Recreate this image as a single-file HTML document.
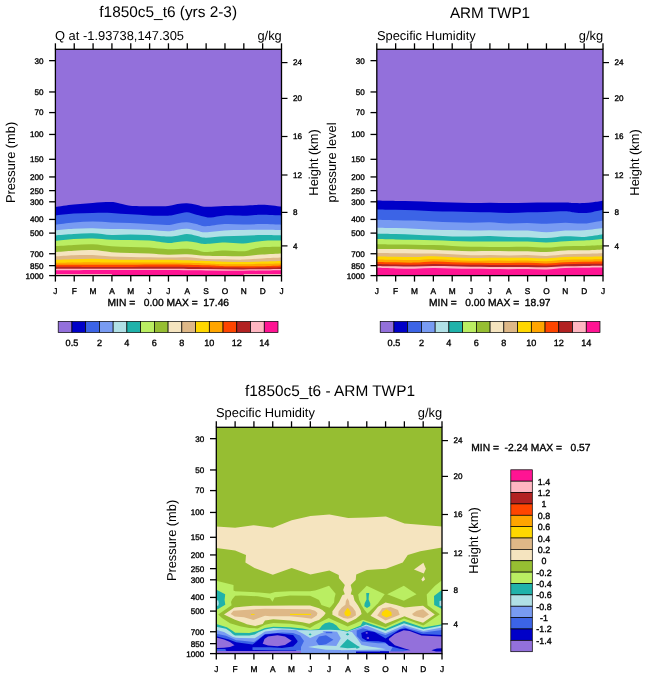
<!DOCTYPE html>
<html><head><meta charset="utf-8"><style>
html,body{margin:0;padding:0;background:#fff;overflow:hidden;}
svg{display:block;}
text{font-family:"Liberation Sans", sans-serif;fill:#000;text-rendering:geometricPrecision;}
.ov{position:absolute;left:0;top:0;will-change:transform;}
.sm{stroke:#000;stroke-width:0.35px;}
.tk{stroke:#000;stroke-width:1.3;}
.tk2{stroke:#000;stroke-width:1.2;}
</style></head><body>
<svg width="648" height="678" viewBox="0 0 648 678">
<rect width="648" height="678" fill="#fff"/>
<rect x="55.4" y="49.3" width="226.10" height="226.30" fill="#9370DB"/>
<path d="M55.40,207.00 C58.47,206.58 67.58,205.18 73.80,204.50 C80.02,203.82 86.42,203.32 92.70,202.90 C98.98,202.48 106.78,201.86 111.50,202.00 C116.22,202.14 117.87,203.12 121.00,203.75 C124.13,204.38 125.60,205.33 130.30,205.75 C135.00,206.17 142.92,206.21 149.20,206.25 C155.48,206.29 163.28,206.36 168.00,206.00 C172.72,205.64 174.35,204.56 177.50,204.10 C180.65,203.64 183.77,203.14 186.90,203.25 C190.03,203.36 193.17,204.16 196.30,204.75 C199.43,205.34 201.00,206.59 205.70,206.80 C210.40,207.01 218.22,206.18 224.50,206.00 C230.78,205.82 238.32,205.92 243.40,205.75 C248.48,205.58 251.87,205.17 255.00,205.00 C258.13,204.83 259.28,204.68 262.20,204.75 C265.12,204.82 269.28,205.09 272.50,205.40 C275.72,205.71 280.00,206.40 281.50,206.60 L281.50,275.60 L55.40,275.60 Z" fill="#0000C8"/>
<path d="M55.40,215.40 C58.47,215.08 67.58,213.92 73.80,213.50 C80.02,213.08 86.42,213.00 92.70,212.90 C98.98,212.80 105.23,212.67 111.50,212.90 C117.77,213.13 124.02,213.88 130.30,214.30 C136.58,214.72 142.92,215.16 149.20,215.40 C155.48,215.64 163.28,215.97 168.00,215.75 C172.72,215.53 174.35,214.68 177.50,214.10 C180.65,213.52 183.77,212.14 186.90,212.25 C190.03,212.36 193.17,213.96 196.30,214.75 C199.43,215.54 203.25,216.54 205.70,217.00 C208.15,217.46 207.87,217.77 211.00,217.50 C214.13,217.23 219.10,215.69 224.50,215.40 C229.90,215.11 238.32,215.82 243.40,215.75 C248.48,215.68 251.87,215.17 255.00,215.00 C258.13,214.83 257.78,214.68 262.20,214.75 C266.62,214.82 278.28,215.29 281.50,215.40 L281.50,275.60 L55.40,275.60 Z" fill="#3C64E6"/>
<path d="M55.40,224.75 C58.47,224.38 67.58,223.03 73.80,222.50 C80.02,221.97 86.42,221.60 92.70,221.60 C98.98,221.60 105.23,222.25 111.50,222.50 C117.77,222.75 124.02,222.83 130.30,223.10 C136.58,223.37 142.92,223.78 149.20,224.10 C155.48,224.42 163.28,225.14 168.00,225.00 C172.72,224.86 174.35,223.71 177.50,223.25 C180.65,222.79 183.77,222.11 186.90,222.25 C190.03,222.39 193.17,223.42 196.30,224.10 C199.43,224.78 201.00,226.30 205.70,226.30 C210.40,226.30 218.22,224.40 224.50,224.10 C230.78,223.80 237.12,224.50 243.40,224.50 C249.68,224.50 255.85,224.06 262.20,224.10 C268.55,224.14 278.28,224.64 281.50,224.75 L281.50,275.60 L55.40,275.60 Z" fill="#789BF2"/>
<path d="M55.40,230.40 C58.47,230.12 67.58,229.11 73.80,228.75 C80.02,228.39 86.42,228.19 92.70,228.25 C98.98,228.31 105.23,228.92 111.50,229.10 C117.77,229.28 124.02,229.15 130.30,229.30 C136.58,229.45 142.92,229.68 149.20,230.00 C155.48,230.32 163.28,231.29 168.00,231.25 C172.72,231.21 174.35,230.17 177.50,229.75 C180.65,229.33 183.77,228.64 186.90,228.75 C190.03,228.86 193.17,229.82 196.30,230.40 C199.43,230.98 201.00,232.25 205.70,232.25 C210.40,232.25 218.22,230.78 224.50,230.40 C230.78,230.03 237.12,230.11 243.40,230.00 C249.68,229.89 255.85,229.75 262.20,229.75 C268.55,229.75 278.28,229.96 281.50,230.00 L281.50,275.60 L55.40,275.60 Z" fill="#B0E0E6"/>
<path d="M55.40,235.40 C58.47,235.18 67.58,234.46 73.80,234.10 C80.02,233.74 86.42,233.10 92.70,233.25 C98.98,233.40 105.23,234.81 111.50,235.00 C117.77,235.19 124.02,234.40 130.30,234.40 C136.58,234.40 142.92,234.63 149.20,235.00 C155.48,235.37 163.28,236.47 168.00,236.60 C172.72,236.72 174.35,236.17 177.50,235.75 C180.65,235.33 183.77,234.10 186.90,234.10 C190.03,234.10 193.17,235.15 196.30,235.75 C199.43,236.35 201.00,237.62 205.70,237.70 C210.40,237.78 218.22,236.57 224.50,236.25 C230.78,235.93 237.12,235.96 243.40,235.75 C249.68,235.54 255.85,235.06 262.20,235.00 C268.55,234.94 278.28,235.33 281.50,235.40 L281.50,275.60 L55.40,275.60 Z" fill="#20B2AA"/>
<path d="M55.40,240.80 C58.47,240.50 67.58,239.38 73.80,239.00 C80.02,238.62 86.42,238.38 92.70,238.50 C98.98,238.62 105.23,239.43 111.50,239.70 C117.77,239.97 124.02,239.95 130.30,240.10 C136.58,240.25 142.92,240.12 149.20,240.60 C155.48,241.08 163.28,242.77 168.00,243.00 C172.72,243.23 174.35,242.28 177.50,242.00 C180.65,241.72 183.77,241.22 186.90,241.30 C190.03,241.38 193.17,242.05 196.30,242.50 C199.43,242.95 201.00,243.98 205.70,244.00 C210.40,244.02 218.22,242.68 224.50,242.60 C230.78,242.52 237.12,243.78 243.40,243.50 C249.68,243.22 255.85,241.38 262.20,240.90 C268.55,240.42 278.28,240.65 281.50,240.60 L281.50,275.60 L55.40,275.60 Z" fill="#BAEE62"/>
<path d="M55.40,246.30 C58.47,246.10 67.58,245.44 73.80,245.10 C80.02,244.76 86.42,244.05 92.70,244.25 C98.98,244.45 105.23,245.84 111.50,246.30 C117.77,246.76 124.02,246.78 130.30,247.00 C136.58,247.22 142.92,247.22 149.20,247.60 C155.48,247.97 161.72,249.05 168.00,249.25 C174.28,249.45 182.18,248.66 186.90,248.80 C191.62,248.94 193.17,249.55 196.30,250.10 C199.43,250.65 201.00,252.03 205.70,252.10 C210.40,252.17 218.22,250.63 224.50,250.50 C230.78,250.37 238.82,251.51 243.40,251.30 C247.98,251.09 248.87,249.93 252.00,249.25 C255.13,248.57 257.28,247.62 262.20,247.20 C267.12,246.78 278.28,246.82 281.50,246.75 L281.50,275.60 L55.40,275.60 Z" fill="#96BE32"/>
<path d="M55.40,252.00 C58.47,251.78 67.58,251.02 73.80,250.70 C80.02,250.38 86.42,249.85 92.70,250.10 C98.98,250.35 105.23,251.72 111.50,252.20 C117.77,252.68 124.02,252.80 130.30,253.00 C136.58,253.20 142.92,253.12 149.20,253.40 C155.48,253.68 161.72,254.56 168.00,254.70 C174.28,254.84 180.62,254.07 186.90,254.25 C193.18,254.43 199.43,255.53 205.70,255.80 C211.97,256.07 218.22,255.83 224.50,255.90 C230.78,255.97 237.12,256.43 243.40,256.20 C249.68,255.97 255.85,254.97 262.20,254.50 C268.55,254.03 278.28,253.58 281.50,253.40 L281.50,275.60 L55.40,275.60 Z" fill="#F5E4BF"/>
<path d="M55.40,256.50 C58.47,256.30 67.58,255.53 73.80,255.30 C80.02,255.07 86.42,254.90 92.70,255.10 C98.98,255.30 105.23,256.18 111.50,256.50 C117.77,256.82 124.02,256.87 130.30,257.00 C136.58,257.13 142.92,257.20 149.20,257.30 C155.48,257.40 161.72,257.60 168.00,257.60 C174.28,257.60 180.62,257.08 186.90,257.30 C193.18,257.52 199.43,258.57 205.70,258.90 C211.97,259.22 218.22,259.13 224.50,259.25 C230.78,259.37 237.12,259.74 243.40,259.60 C249.68,259.46 255.85,258.73 262.20,258.40 C268.55,258.07 278.28,257.73 281.50,257.60 L281.50,275.60 L55.40,275.60 Z" fill="#DEB887"/>
<path d="M55.40,259.80 C58.47,259.71 67.58,259.42 73.80,259.25 C80.02,259.08 86.42,258.76 92.70,258.80 C98.98,258.84 105.23,259.33 111.50,259.50 C117.77,259.67 120.88,259.75 130.30,259.80 C139.72,259.85 155.43,259.60 168.00,259.80 C180.57,260.00 196.28,260.68 205.70,261.00 C215.12,261.32 218.22,261.58 224.50,261.75 C230.78,261.92 237.12,262.04 243.40,262.00 C249.68,261.96 255.85,261.68 262.20,261.50 C268.55,261.32 278.28,261.00 281.50,260.90 L281.50,275.60 L55.40,275.60 Z" fill="#FFD700"/>
<path d="M55.40,262.80 C61.62,262.70 83.35,262.23 92.70,262.20 C102.05,262.17 98.95,262.53 111.50,262.60 C124.05,262.67 152.30,262.47 168.00,262.60 C183.70,262.73 196.28,263.12 205.70,263.40 C215.12,263.67 218.22,264.12 224.50,264.25 C230.78,264.38 237.12,264.27 243.40,264.20 C249.68,264.12 255.85,263.93 262.20,263.80 C268.55,263.67 278.28,263.47 281.50,263.40 L281.50,275.60 L55.40,275.60 Z" fill="#FFA500"/>
<path d="M55.40,264.80 C64.75,264.80 92.73,264.85 111.50,264.80 C130.27,264.75 152.30,264.42 168.00,264.50 C183.70,264.58 196.28,265.02 205.70,265.30 C215.12,265.58 218.22,266.03 224.50,266.20 C230.78,266.37 237.12,266.30 243.40,266.30 C249.68,266.30 255.85,266.33 262.20,266.20 C268.55,266.07 278.28,265.62 281.50,265.50 L281.50,275.60 L55.40,275.60 Z" fill="#FF4500"/>
<path d="M55.40,266.80 C64.75,266.83 92.73,267.01 111.50,267.00 C130.27,266.99 152.30,266.72 168.00,266.75 C183.70,266.78 196.28,267.06 205.70,267.20 C215.12,267.34 215.08,267.53 224.50,267.60 C233.92,267.67 252.70,267.67 262.20,267.60 C271.70,267.53 278.28,267.27 281.50,267.20 L281.50,275.60 L55.40,275.60 Z" fill="#B22222"/>
<path d="M55.40,268.90 C64.75,268.88 92.73,268.83 111.50,268.80 C130.27,268.77 152.30,268.65 168.00,268.70 C183.70,268.75 193.13,268.98 205.70,269.10 C218.27,269.22 230.77,269.42 243.40,269.40 C256.03,269.38 275.15,269.07 281.50,269.00 L281.50,275.60 L55.40,275.60 Z" fill="#FFB6C1"/>
<path d="M55.40,270.20 C64.75,270.15 92.73,269.92 111.50,269.90 C130.27,269.88 152.30,270.00 168.00,270.10 C183.70,270.20 193.13,270.40 205.70,270.50 C218.27,270.60 230.77,270.73 243.40,270.70 C256.03,270.67 275.15,270.37 281.50,270.30 L281.50,275.60 L55.40,275.60 Z" fill="#FF1493"/>
<rect x="55.4" y="274.0" width="56.50" height="1.3" fill="#FFB6C1"/>
<rect x="243.8" y="274.0" width="37.70" height="1.3" fill="#FFB6C1"/>
<rect x="376.8" y="49.3" width="226.20" height="226.30" fill="#9370DB"/>
<path d="M376.80,200.60 C379.95,200.67 389.42,200.89 395.70,201.00 C401.98,201.11 408.22,201.10 414.50,201.25 C420.78,201.40 427.12,201.69 433.40,201.90 C439.68,202.11 445.93,202.30 452.20,202.50 C458.47,202.70 464.72,203.06 471.00,203.10 C477.28,203.14 483.62,202.75 489.90,202.75 C496.18,202.75 502.42,203.10 508.70,203.10 C514.98,203.10 521.30,202.85 527.60,202.75 C533.90,202.65 540.22,202.54 546.50,202.50 C552.78,202.46 560.63,202.40 565.30,202.50 C569.97,202.60 571.35,203.00 574.50,203.10 C577.65,203.20 581.12,203.24 584.20,203.10 C587.28,202.96 589.87,202.63 593.00,202.25 C596.13,201.87 601.33,201.04 603.00,200.80 L603.00,275.60 L376.80,275.60 Z" fill="#0000C8"/>
<path d="M376.80,209.40 C379.95,209.46 389.42,209.61 395.70,209.75 C401.98,209.89 408.22,210.00 414.50,210.25 C420.78,210.50 427.12,211.04 433.40,211.25 C439.68,211.46 445.93,211.39 452.20,211.50 C458.47,211.61 464.72,211.78 471.00,211.90 C477.28,212.03 483.62,212.05 489.90,212.25 C496.18,212.45 502.42,213.10 508.70,213.10 C514.98,213.10 521.30,212.45 527.60,212.25 C533.90,212.05 540.22,212.07 546.50,211.90 C552.78,211.73 560.63,211.15 565.30,211.25 C569.97,211.35 571.35,212.19 574.50,212.50 C577.65,212.81 581.12,213.20 584.20,213.10 C587.28,213.00 589.87,212.45 593.00,211.90 C596.13,211.35 601.33,210.15 603.00,209.80 L603.00,275.60 L376.80,275.60 Z" fill="#3C64E6"/>
<path d="M376.80,219.75 C379.95,219.83 389.42,220.11 395.70,220.25 C401.98,220.39 408.22,220.39 414.50,220.60 C420.78,220.81 427.12,221.22 433.40,221.50 C439.68,221.78 445.93,222.04 452.20,222.25 C458.47,222.46 464.72,222.75 471.00,222.75 C477.28,222.75 483.62,222.12 489.90,222.25 C496.18,222.38 502.42,223.39 508.70,223.50 C514.98,223.61 521.30,222.86 527.60,222.90 C533.90,222.94 540.22,223.78 546.50,223.75 C552.78,223.72 559.02,222.79 565.30,222.75 C571.58,222.71 577.92,223.89 584.20,223.50 C590.48,223.11 599.87,220.92 603.00,220.40 L603.00,275.60 L376.80,275.60 Z" fill="#789BF2"/>
<path d="M376.80,227.75 C379.95,227.81 389.42,227.93 395.70,228.10 C401.98,228.27 408.22,228.47 414.50,228.75 C420.78,229.03 427.12,229.53 433.40,229.75 C439.68,229.97 445.93,229.96 452.20,230.10 C458.47,230.24 464.72,230.57 471.00,230.60 C477.28,230.62 483.62,230.25 489.90,230.25 C496.18,230.25 502.42,230.54 508.70,230.60 C514.98,230.66 521.30,230.32 527.60,230.60 C533.90,230.88 540.22,232.25 546.50,232.25 C552.78,232.25 559.02,230.93 565.30,230.60 C571.58,230.27 577.92,230.68 584.20,230.25 C590.48,229.82 599.87,228.38 603.00,228.00 L603.00,275.60 L376.80,275.60 Z" fill="#B0E0E6"/>
<path d="M376.80,233.75 C379.95,233.79 389.42,233.83 395.70,234.00 C401.98,234.17 408.22,234.48 414.50,234.75 C420.78,235.02 427.12,235.32 433.40,235.60 C439.68,235.88 445.93,236.25 452.20,236.40 C458.47,236.55 464.72,236.57 471.00,236.50 C477.28,236.43 483.62,235.93 489.90,236.00 C496.18,236.07 502.42,236.69 508.70,236.90 C514.98,237.11 521.30,237.05 527.60,237.25 C533.90,237.45 540.22,238.27 546.50,238.10 C552.78,237.93 559.02,236.45 565.30,236.25 C571.58,236.05 577.92,237.22 584.20,236.90 C590.48,236.58 599.87,234.73 603.00,234.30 L603.00,275.60 L376.80,275.60 Z" fill="#20B2AA"/>
<path d="M376.80,239.00 C379.95,239.07 389.42,239.28 395.70,239.40 C401.98,239.53 408.22,239.62 414.50,239.75 C420.78,239.88 427.12,240.01 433.40,240.20 C439.68,240.39 445.93,240.68 452.20,240.90 C458.47,241.12 464.72,241.40 471.00,241.50 C477.28,241.60 483.62,241.48 489.90,241.50 C496.18,241.52 502.42,241.60 508.70,241.60 C514.98,241.60 521.30,241.37 527.60,241.50 C533.90,241.63 540.22,242.45 546.50,242.40 C552.78,242.35 559.02,241.52 565.30,241.20 C571.58,240.88 577.92,240.87 584.20,240.50 C590.48,240.13 599.87,239.25 603.00,239.00 L603.00,275.60 L376.80,275.60 Z" fill="#BAEE62"/>
<path d="M376.80,244.25 C379.95,244.29 389.42,244.43 395.70,244.50 C401.98,244.57 408.22,244.60 414.50,244.70 C420.78,244.80 427.12,244.90 433.40,245.10 C439.68,245.30 445.93,245.62 452.20,245.90 C458.47,246.18 464.72,246.58 471.00,246.75 C477.28,246.92 483.62,246.86 489.90,246.90 C496.18,246.94 502.42,247.03 508.70,247.00 C514.98,246.97 521.30,246.65 527.60,246.75 C533.90,246.85 540.22,247.69 546.50,247.60 C552.78,247.51 559.02,246.48 565.30,246.20 C571.58,245.92 577.92,246.10 584.20,245.90 C590.48,245.70 599.87,245.15 603.00,245.00 L603.00,275.60 L376.80,275.60 Z" fill="#96BE32"/>
<path d="M376.80,249.00 C379.95,249.00 389.42,248.96 395.70,249.00 C401.98,249.04 408.22,249.13 414.50,249.25 C420.78,249.37 427.12,249.49 433.40,249.70 C439.68,249.91 445.93,250.25 452.20,250.50 C458.47,250.75 464.72,251.10 471.00,251.20 C477.28,251.30 483.62,251.08 489.90,251.10 C496.18,251.12 502.42,251.28 508.70,251.30 C514.98,251.32 521.30,251.08 527.60,251.20 C533.90,251.32 540.22,252.13 546.50,252.00 C552.78,251.87 559.02,250.68 565.30,250.40 C571.58,250.12 577.92,250.45 584.20,250.30 C590.48,250.15 599.87,249.63 603.00,249.50 L603.00,275.60 L376.80,275.60 Z" fill="#F5E4BF"/>
<path d="M376.80,253.00 C379.95,253.03 389.42,253.13 395.70,253.20 C401.98,253.27 408.22,253.35 414.50,253.40 C420.78,253.45 427.12,253.36 433.40,253.50 C439.68,253.64 445.93,253.95 452.20,254.25 C458.47,254.55 464.72,255.18 471.00,255.30 C477.28,255.43 483.62,254.97 489.90,255.00 C496.18,255.03 502.42,255.48 508.70,255.50 C514.98,255.52 521.30,255.03 527.60,255.10 C533.90,255.17 540.22,256.03 546.50,255.90 C552.78,255.77 559.02,254.65 565.30,254.30 C571.58,253.95 577.92,253.98 584.20,253.80 C590.48,253.62 599.87,253.30 603.00,253.20 L603.00,275.60 L376.80,275.60 Z" fill="#DEB887"/>
<path d="M376.80,256.50 C379.95,256.54 389.42,256.67 395.70,256.75 C401.98,256.83 408.22,257.09 414.50,257.00 C420.78,256.91 427.12,256.15 433.40,256.20 C439.68,256.25 445.93,257.00 452.20,257.30 C458.47,257.60 464.72,257.93 471.00,258.00 C477.28,258.07 483.62,257.73 489.90,257.70 C496.18,257.67 502.42,257.80 508.70,257.80 C514.98,257.80 521.30,257.60 527.60,257.70 C533.90,257.80 540.22,258.50 546.50,258.40 C552.78,258.30 559.02,257.38 565.30,257.10 C571.58,256.83 577.92,256.85 584.20,256.75 C590.48,256.65 599.87,256.54 603.00,256.50 L603.00,275.60 L376.80,275.60 Z" fill="#FFD700"/>
<path d="M376.80,259.50 C379.95,259.55 389.42,259.70 395.70,259.80 C401.98,259.90 408.22,260.18 414.50,260.10 C420.78,260.02 427.12,259.30 433.40,259.30 C439.68,259.30 445.93,259.85 452.20,260.10 C458.47,260.35 464.72,260.73 471.00,260.80 C477.28,260.87 483.62,260.52 489.90,260.50 C496.18,260.48 502.42,260.68 508.70,260.70 C514.98,260.72 521.30,260.50 527.60,260.60 C533.90,260.70 540.22,261.43 546.50,261.30 C552.78,261.17 559.02,260.10 565.30,259.80 C571.58,259.50 577.92,259.59 584.20,259.50 C590.48,259.41 599.87,259.29 603.00,259.25 L603.00,275.60 L376.80,275.60 Z" fill="#FFA500"/>
<path d="M376.80,262.00 C379.95,262.05 389.42,262.20 395.70,262.30 C401.98,262.40 408.22,262.73 414.50,262.60 C420.78,262.47 427.12,261.57 433.40,261.50 C439.68,261.43 445.93,261.98 452.20,262.20 C458.47,262.42 464.72,262.68 471.00,262.80 C477.28,262.92 483.62,262.87 489.90,262.90 C496.18,262.93 502.42,263.02 508.70,263.00 C514.98,262.98 521.30,262.73 527.60,262.80 C533.90,262.87 540.22,263.50 546.50,263.40 C552.78,263.30 559.02,262.47 565.30,262.20 C571.58,261.93 577.92,261.87 584.20,261.75 C590.48,261.63 599.87,261.54 603.00,261.50 L603.00,275.60 L376.80,275.60 Z" fill="#FF4500"/>
<path d="M376.80,264.00 C379.95,264.08 389.42,264.37 395.70,264.50 C401.98,264.63 408.22,264.88 414.50,264.80 C420.78,264.72 427.12,264.05 433.40,264.00 C439.68,263.95 445.93,264.37 452.20,264.50 C458.47,264.63 464.72,264.72 471.00,264.80 C477.28,264.88 483.62,264.95 489.90,265.00 C496.18,265.05 502.42,265.08 508.70,265.10 C514.98,265.12 521.30,265.03 527.60,265.10 C533.90,265.17 540.22,265.64 546.50,265.50 C552.78,265.36 559.02,264.53 565.30,264.25 C571.58,263.97 577.92,263.89 584.20,263.80 C590.48,263.71 599.87,263.72 603.00,263.70 L603.00,275.60 L376.80,275.60 Z" fill="#B22222"/>
<path d="M376.80,265.90 C379.95,265.97 389.42,266.20 395.70,266.30 C401.98,266.40 408.22,266.55 414.50,266.50 C420.78,266.45 427.12,266.05 433.40,266.00 C439.68,265.95 445.93,266.07 452.20,266.20 C458.47,266.32 464.72,266.63 471.00,266.75 C477.28,266.87 483.62,266.84 489.90,266.90 C496.18,266.96 502.42,267.10 508.70,267.10 C514.98,267.10 521.30,266.87 527.60,266.90 C533.90,266.93 540.22,267.40 546.50,267.30 C552.78,267.20 559.02,266.53 565.30,266.30 C571.58,266.07 577.92,266.00 584.20,265.90 C590.48,265.80 599.87,265.73 603.00,265.70 L603.00,275.60 L376.80,275.60 Z" fill="#FFB6C1"/>
<path d="M376.80,267.80 C379.95,267.90 389.42,268.25 395.70,268.40 C401.98,268.55 408.22,268.77 414.50,268.70 C420.78,268.63 427.12,268.05 433.40,268.00 C439.68,267.95 445.93,268.27 452.20,268.40 C458.47,268.53 464.72,268.70 471.00,268.80 C477.28,268.90 483.62,268.93 489.90,269.00 C496.18,269.07 502.42,269.20 508.70,269.20 C514.98,269.20 521.30,268.95 527.60,269.00 C533.90,269.05 540.22,269.65 546.50,269.50 C552.78,269.35 559.02,268.38 565.30,268.10 C571.58,267.82 577.92,267.88 584.20,267.80 C590.48,267.72 599.87,267.63 603.00,267.60 L603.00,275.60 L376.80,275.60 Z" fill="#FF1493"/>
<rect x="216.3" y="427.3" width="225.70" height="226.30" fill="#96BE32"/>
<path d="M216.30,526.50 L235.10,527.75 L253.50,525.25 L272.80,527.75 L291.70,520.30 L310.50,516.00 L329.40,514.40 L348.20,518.10 L367.10,517.50 L385.90,516.50 L404.50,523.50 L442.00,526.50 L442.00,547.50 L420.25,551.25 L407.75,555.00 L402.75,562.50 L385.90,568.75 L366.90,570.00 L356.25,574.40 L355.70,580.00 L350.70,585.00 L351.90,590.00 L350.70,594.20 L353.20,595.30 L354.50,600.40 L357.90,605.20 L360.60,610.00 L361.60,614.00 L355.90,618.80 L347.70,622.80 L339.60,618.40 L332.40,614.70 L332.40,611.30 L334.80,607.90 L339.20,601.80 L342.30,595.20 L344.80,594.20 L343.20,590.00 L344.80,585.00 L339.00,578.30 L338.75,575.00 L329.40,570.60 L310.50,574.40 L291.70,568.10 L272.80,574.75 L254.50,568.10 L245.40,562.50 L246.00,555.00 L235.10,550.60 L216.30,548.10 Z" fill="#F5E4BF"/>
<path d="M216.30,581.00 L217.25,581.00 L233.50,585.00 L233.50,590.40 L235.20,591.25 L259.30,592.50 L270.00,593.50 L275.00,592.10 L290.00,591.25 L310.00,591.25 L315.00,590.40 L319.00,589.20 L329.00,585.80 L335.60,593.70 L334.50,598.00 L334.10,602.60 L331.00,606.50 L329.50,607.80 L321.50,605.00 L319.00,600.00 L315.00,597.90 L310.00,595.80 L290.00,595.40 L274.60,597.50 L272.50,601.70 L270.00,598.30 L265.00,597.50 L257.70,596.25 L241.00,595.40 L235.20,595.80 L232.25,599.20 L231.00,602.00 L231.60,605.30 L218.20,614.50 L222.00,618.00 L230.00,623.20 L240.00,626.30 L249.30,627.90 L257.70,628.40 L265.00,624.70 L273.30,623.00 L290.00,623.80 L302.50,625.50 L310.00,628.00 L315.00,624.70 L319.00,622.80 L328.70,618.00 L334.00,620.60 L347.70,626.50 L355.00,623.50 L363.00,619.70 L385.50,627.20 L404.00,618.60 L423.30,625.50 L439.80,614.30 L427.50,605.30 L426.70,594.60 L435.00,585.80 L441.70,580.60 L442.00,580.60 L442.00,653.60 L216.30,653.60 Z" fill="#BAEE62"/>
<path d="M358.20,594.40 L366.75,585.80 L384.70,594.20 L378.00,603.30 L367.50,613.50 L364.50,610.00 L361.60,605.60 L359.00,599.60 Z" fill="#BAEE62"/>
<path d="M387.20,594.20 L403.80,585.80 L416.50,594.20 L403.80,600.80 Z" fill="#BAEE62"/>
<path d="M216.30,590.00 L217.00,590.00 L225.20,594.20 L224.60,600.00 L225.30,604.80 L217.70,609.20 L216.30,609.40 Z" fill="#20B2AA"/>
<path d="M216.30,600.20 L218.30,600.60 L218.80,603.50 L218.30,605.70 L216.30,605.70 Z" fill="#B0E0E6"/>
<path d="M366.20,593.00 L369.30,593.00 L368.80,596.00 L368.60,599.50 L370.30,603.50 L370.20,606.00 L367.00,607.90 L364.30,606.20 L364.60,603.50 L366.50,599.50 L366.40,596.00 Z" fill="#20B2AA"/>
<path d="M434.00,596.00 L440.80,590.80 L442.00,590.50 L442.00,609.00 L441.10,608.50 L434.20,605.00 Z" fill="#20B2AA"/>
<path d="M439.50,601.00 L442.00,600.50 L442.00,606.00 L439.50,605.80 Z" fill="#B0E0E6"/>
<path d="M224.00,614.50 L234.40,607.60 L244.00,606.40 L253.50,605.70 L265.00,605.80 L290.00,605.40 L310.00,605.40 L315.00,607.00 L319.00,608.30 L322.30,610.00 L325.70,613.00 L324.00,615.50 L319.00,620.00 L315.00,621.30 L309.20,623.80 L302.50,622.20 L290.00,620.50 L273.30,619.25 L265.00,620.50 L262.70,624.00 L255.20,626.00 L246.80,624.25 L244.00,622.90 L234.40,619.60 Z" fill="#F5E4BF"/>
<path d="M370.50,615.70 L378.00,606.70 L385.50,602.50 L396.30,605.00 L404.70,607.50 L414.00,606.50 L423.00,605.80 L434.80,614.60 L423.00,622.80 L414.00,620.00 L404.50,616.30 L385.50,623.80 Z" fill="#F5E4BF"/>
<path d="M414.00,569.40 L423.40,562.75 L425.90,568.75 L423.75,573.50 Z" fill="#F5E4BF"/>
<path d="M423.75,576.25 L421.30,579.40 L422.75,581.50 L425.00,579.40 Z" fill="#F5E4BF"/>
<path d="M230.70,614.00 L233.40,610.80 L244.00,609.90 L265.00,608.75 L310.00,609.20 L315.00,610.80 L317.50,613.00 L316.70,615.50 L311.70,618.80 L302.50,617.60 L290.00,616.30 L270.00,616.30 L265.00,615.80 L253.50,620.00 L244.00,617.30 L234.80,616.40 Z" fill="#DEB887"/>
<path d="M347.40,598.30 L349.00,601.00 L349.60,604.80 L352.80,607.50 L355.60,611.50 L356.00,615.20 L351.50,618.00 L347.70,618.70 L343.50,618.10 L338.20,615.20 L338.60,611.50 L341.80,607.50 L345.40,604.80 L345.90,601.00 Z" fill="#DEB887"/>
<path d="M377.20,615.50 L382.20,608.30 L390.50,607.00 L398.00,610.00 L399.70,614.70 L385.50,620.50 Z" fill="#DEB887"/>
<path d="M412.00,614.00 L416.70,610.80 L423.00,609.30 L429.00,614.60 L423.30,618.00 L414.00,616.00 Z" fill="#DEB887"/>
<path d="M347.70,607.80 L349.40,609.80 L350.90,612.80 L350.40,615.20 L347.70,616.50 L345.00,615.20 L344.30,612.80 L346.00,609.80 Z" fill="#FFD700"/>
<path d="M386.30,609.20 L391.30,612.00 L391.80,615.50 L386.30,617.60 L381.50,615.00 L382.20,612.00 Z" fill="#FFD700"/>
<path d="M290.00,613.80 L311.00,613.80 L311.00,615.00 L290.00,615.00 Z" fill="#FFD700"/>
<path d="M251.00,613.90 L254.50,613.90 L254.50,614.90 L251.00,614.90 Z" fill="#FFD700"/>
<path d="M216.30,624.00 L226.80,627.20 L232.00,630.50 L235.20,632.80 L249.30,633.00 L257.70,631.00 L265.00,628.00 L273.30,626.75 L290.00,627.20 L302.50,628.40 L310.00,630.00 L315.00,629.40 L319.00,629.00 L320.30,627.80 L322.00,625.50 L325.00,623.30 L329.20,622.30 L333.00,623.30 L336.50,625.50 L338.10,627.60 L340.00,629.40 L347.30,631.00 L360.70,625.50 L363.00,621.30 L385.50,628.90 L404.00,621.00 L423.30,627.60 L442.00,624.20 L442.00,653.60 L216.30,653.60 Z" fill="#20B2AA"/>
<path d="M216.30,626.80 L226.00,628.80 L230.00,631.50 L233.00,634.20 L235.00,635.60 L249.30,635.60 L254.70,634.60 L258.40,632.20 L265.00,629.50 L273.30,628.00 L290.00,628.80 L302.50,630.50 L310.00,631.00 L315.00,630.20 L319.00,629.90 L330.00,629.80 L340.00,630.30 L347.30,631.70 L360.70,627.00 L366.00,624.50 L385.50,630.70 L404.00,623.20 L423.30,629.20 L442.00,625.50 L442.00,653.60 L216.30,653.60 Z" fill="#B0E0E6"/>
<path d="M216.30,630.00 L224.00,632.00 L228.80,634.80 L233.00,637.00 L236.00,637.80 L240.00,638.10 L254.70,638.30 L258.40,635.90 L265.00,631.50 L282.00,629.50 L294.00,630.00 L330.00,631.30 L337.10,631.80 L340.80,638.30 L336.40,645.70 L341.00,650.10 L341.00,653.60 L216.30,653.60 Z" fill="#789BF2"/>
<path d="M296.00,630.20 L322.00,630.60 L324.00,632.30 L320.50,633.60 L310.10,638.00 L302.70,633.60 Z" fill="#B0E0E6"/>
<path d="M319.00,636.60 L326.00,635.30 L333.40,639.80 L326.00,644.20 L319.00,645.50 L316.00,641.00 Z" fill="#3C64E6"/>
<path d="M325.70,631.90 L332.30,631.90 L332.30,633.20 L325.70,633.20 Z" fill="#3C64E6"/>
<path d="M349.00,631.50 L360.70,627.30 L366.70,625.80 L385.50,633.20 L404.00,625.20 L423.30,631.00 L442.00,627.60 L442.00,653.60 L296.00,653.60 L296.00,650.60 L341.00,650.30 L386.00,649.50 L361.60,645.00 L357.00,638.30 L352.00,632.00 Z" fill="#789BF2"/>
<path d="M308.00,647.00 L318.00,645.20 L326.40,645.50 L336.40,646.00 L341.00,646.40 L350.00,647.50 L356.00,646.20 L386.00,648.30 L360.00,649.30 L341.00,650.10 L326.00,649.80 L318.00,648.40 Z" fill="#B0E0E6"/>
<path d="M356.70,630.50 L363.00,628.30 L385.50,635.00 L404.00,627.30 L423.30,632.60 L442.00,630.00 L442.00,653.60 L389.00,653.60 L393.00,646.50 L386.40,643.30 L378.00,643.30 L362.00,641.50 L356.70,636.00 Z" fill="#3C64E6"/>
<path d="M361.20,632.90 L367.10,630.70 L374.50,632.10 L385.60,638.40 L388.00,637.00 L399.80,629.40 L405.70,628.60 L421.50,633.90 L442.00,634.90 L442.00,640.00 L420.00,640.00 L410.60,650.50 L399.80,648.70 L388.90,645.80 L385.00,642.20 L378.20,641.20 L367.10,640.90 L362.00,638.00 Z" fill="#0000C8"/>
<path d="M388.90,638.80 L394.80,633.90 L403.70,630.30 L409.60,631.00 L421.50,635.60 L442.00,636.60 L442.00,653.60 L404.00,653.60 L404.00,651.20 L410.60,650.20 L404.70,648.50 L394.80,645.30 L388.90,640.00 Z" fill="#9370DB"/>
<path d="M356.00,651.40 L389.00,651.40 L389.00,653.60 L356.00,653.60 Z" fill="#0000C8"/>
<path d="M389.00,651.40 L442.00,651.30 L442.00,653.60 L389.00,653.60 Z" fill="#9370DB"/>
<path d="M380.00,651.40 L389.00,651.40 L389.00,653.60 L380.00,653.60 Z" fill="#0000C8"/>
<path d="M431.40,650.20 L437.00,648.60 L442.00,648.20 L442.00,651.50 L436.00,651.50 Z" fill="#0000C8"/>
<path d="M216.30,633.70 L226.00,635.80 L236.20,640.20 L240.00,640.60 L254.00,641.90 L258.40,638.90 L265.00,634.00 L282.00,632.50 L293.00,633.00 L300.00,635.50 L304.00,641.00 L301.00,647.00 L296.00,650.70 L216.30,651.30 Z" fill="#3C64E6"/>
<path d="M216.30,636.30 L228.80,639.60 L236.20,642.30 L252.50,644.60 L257.00,641.10 L262.70,636.30 L265.00,634.50 L277.50,633.20 L293.10,635.10 L297.60,641.00 L296.00,651.10 L226.00,651.10 L225.00,649.00 L216.30,648.90 Z" fill="#0000C8"/>
<path d="M252.50,647.30 L270.00,647.20 L282.00,647.90 L293.10,646.40 L297.60,642.00 L301.00,645.00 L301.00,650.40 L282.00,650.40 L252.50,650.10 Z" fill="#3C64E6"/>
<path d="M216.30,648.90 L225.00,649.00 L226.50,650.50 L216.30,650.50 Z" fill="#3C64E6"/>
<path d="M216.30,637.60 L224.00,639.50 L230.00,642.00 L234.50,645.20 L230.00,647.00 L224.00,647.70 L216.30,647.90 Z" fill="#9370DB"/>
<path d="M262.70,643.80 L264.50,639.00 L268.00,636.50 L277.50,635.30 L285.00,636.50 L291.70,640.80 L285.00,645.00 L277.50,646.30 L268.00,645.60 Z" fill="#9370DB"/>
<path d="M216.30,651.10 L301.00,650.90 L301.00,653.60 L216.30,653.60 Z" fill="#9370DB"/>
<path d="M347.50,639.00 L360.00,647.60 L347.50,648.30 L339.70,647.20 Z" fill="#20B2AA"/>
<path d="M310.10,633.20 L311.60,634.40 L310.10,635.60 L308.60,634.40 Z" fill="#20B2AA"/>
<path d="M347.50,632.90 L349.30,634.20 L347.50,635.50 L345.70,634.20 Z" fill="#20B2AA"/>
<path d="M356.00,646.30 L359.70,646.80 L358.00,648.40 L356.00,648.40 Z" fill="#20B2AA"/>
<path d="M365.80,632.20 L367.60,632.20 L367.60,633.60 L365.80,633.60 Z" fill="#9370DB"/>
<path d="M366.80,637.30 L369.00,637.30 L369.00,638.80 L366.80,638.80 Z" fill="#9370DB"/>
<line x1="55.40" y1="43.30" x2="55.40" y2="49.30" class="tk"/>
<line x1="55.40" y1="275.60" x2="55.40" y2="281.60" class="tk"/>
<line x1="74.24" y1="43.30" x2="74.24" y2="49.30" class="tk"/>
<line x1="74.24" y1="275.60" x2="74.24" y2="281.60" class="tk"/>
<line x1="93.08" y1="43.30" x2="93.08" y2="49.30" class="tk"/>
<line x1="93.08" y1="275.60" x2="93.08" y2="281.60" class="tk"/>
<line x1="111.92" y1="43.30" x2="111.92" y2="49.30" class="tk"/>
<line x1="111.92" y1="275.60" x2="111.92" y2="281.60" class="tk"/>
<line x1="130.77" y1="43.30" x2="130.77" y2="49.30" class="tk"/>
<line x1="130.77" y1="275.60" x2="130.77" y2="281.60" class="tk"/>
<line x1="149.61" y1="43.30" x2="149.61" y2="49.30" class="tk"/>
<line x1="149.61" y1="275.60" x2="149.61" y2="281.60" class="tk"/>
<line x1="168.45" y1="43.30" x2="168.45" y2="49.30" class="tk"/>
<line x1="168.45" y1="275.60" x2="168.45" y2="281.60" class="tk"/>
<line x1="187.29" y1="43.30" x2="187.29" y2="49.30" class="tk"/>
<line x1="187.29" y1="275.60" x2="187.29" y2="281.60" class="tk"/>
<line x1="206.13" y1="43.30" x2="206.13" y2="49.30" class="tk"/>
<line x1="206.13" y1="275.60" x2="206.13" y2="281.60" class="tk"/>
<line x1="224.97" y1="43.30" x2="224.97" y2="49.30" class="tk"/>
<line x1="224.97" y1="275.60" x2="224.97" y2="281.60" class="tk"/>
<line x1="243.82" y1="43.30" x2="243.82" y2="49.30" class="tk"/>
<line x1="243.82" y1="275.60" x2="243.82" y2="281.60" class="tk"/>
<line x1="262.66" y1="43.30" x2="262.66" y2="49.30" class="tk"/>
<line x1="262.66" y1="275.60" x2="262.66" y2="281.60" class="tk"/>
<line x1="281.50" y1="43.30" x2="281.50" y2="49.30" class="tk"/>
<line x1="281.50" y1="275.60" x2="281.50" y2="281.60" class="tk"/>
<line x1="49.10" y1="60.65" x2="55.40" y2="60.65" class="tk"/>
<line x1="49.10" y1="91.96" x2="55.40" y2="91.96" class="tk"/>
<line x1="49.10" y1="112.59" x2="55.40" y2="112.59" class="tk"/>
<line x1="49.10" y1="134.45" x2="55.40" y2="134.45" class="tk"/>
<line x1="49.10" y1="159.31" x2="55.40" y2="159.31" class="tk"/>
<line x1="49.10" y1="176.94" x2="55.40" y2="176.94" class="tk"/>
<line x1="49.10" y1="190.62" x2="55.40" y2="190.62" class="tk"/>
<line x1="49.10" y1="201.80" x2="55.40" y2="201.80" class="tk"/>
<line x1="49.10" y1="219.43" x2="55.40" y2="219.43" class="tk"/>
<line x1="49.10" y1="233.11" x2="55.40" y2="233.11" class="tk"/>
<line x1="49.10" y1="253.74" x2="55.40" y2="253.74" class="tk"/>
<line x1="49.10" y1="265.64" x2="55.40" y2="265.64" class="tk"/>
<line x1="49.10" y1="275.60" x2="55.40" y2="275.60" class="tk"/>
<line x1="281.50" y1="62.60" x2="287.50" y2="62.60" class="tk2"/>
<line x1="281.50" y1="98.40" x2="287.50" y2="98.40" class="tk2"/>
<line x1="281.50" y1="136.50" x2="287.50" y2="136.50" class="tk2"/>
<line x1="281.50" y1="175.00" x2="287.50" y2="175.00" class="tk2"/>
<line x1="281.50" y1="212.40" x2="287.50" y2="212.40" class="tk2"/>
<line x1="281.50" y1="245.90" x2="287.50" y2="245.90" class="tk2"/>
<rect x="55.40" y="49.30" width="226.10" height="226.30" fill="none" stroke="#000" stroke-width="1.3"/>
<rect x="58.20" y="321.40" width="13.74" height="11.10" fill="#9370DB" stroke="#000" stroke-width="0.7"/>
<rect x="71.94" y="321.40" width="13.74" height="11.10" fill="#0000C8" stroke="#000" stroke-width="0.7"/>
<rect x="85.68" y="321.40" width="13.74" height="11.10" fill="#3C64E6" stroke="#000" stroke-width="0.7"/>
<rect x="99.41" y="321.40" width="13.74" height="11.10" fill="#789BF2" stroke="#000" stroke-width="0.7"/>
<rect x="113.15" y="321.40" width="13.74" height="11.10" fill="#B0E0E6" stroke="#000" stroke-width="0.7"/>
<rect x="126.89" y="321.40" width="13.74" height="11.10" fill="#20B2AA" stroke="#000" stroke-width="0.7"/>
<rect x="140.62" y="321.40" width="13.74" height="11.10" fill="#BAEE62" stroke="#000" stroke-width="0.7"/>
<rect x="154.36" y="321.40" width="13.74" height="11.10" fill="#96BE32" stroke="#000" stroke-width="0.7"/>
<rect x="168.10" y="321.40" width="13.74" height="11.10" fill="#F5E4BF" stroke="#000" stroke-width="0.7"/>
<rect x="181.84" y="321.40" width="13.74" height="11.10" fill="#DEB887" stroke="#000" stroke-width="0.7"/>
<rect x="195.57" y="321.40" width="13.74" height="11.10" fill="#FFD700" stroke="#000" stroke-width="0.7"/>
<rect x="209.31" y="321.40" width="13.74" height="11.10" fill="#FFA500" stroke="#000" stroke-width="0.7"/>
<rect x="223.05" y="321.40" width="13.74" height="11.10" fill="#FF4500" stroke="#000" stroke-width="0.7"/>
<rect x="236.79" y="321.40" width="13.74" height="11.10" fill="#B22222" stroke="#000" stroke-width="0.7"/>
<rect x="250.53" y="321.40" width="13.74" height="11.10" fill="#FFB6C1" stroke="#000" stroke-width="0.7"/>
<rect x="264.26" y="321.40" width="13.74" height="11.10" fill="#FF1493" stroke="#000" stroke-width="0.7"/>
<line x1="376.80" y1="43.30" x2="376.80" y2="49.30" class="tk"/>
<line x1="376.80" y1="275.60" x2="376.80" y2="281.60" class="tk"/>
<line x1="395.65" y1="43.30" x2="395.65" y2="49.30" class="tk"/>
<line x1="395.65" y1="275.60" x2="395.65" y2="281.60" class="tk"/>
<line x1="414.50" y1="43.30" x2="414.50" y2="49.30" class="tk"/>
<line x1="414.50" y1="275.60" x2="414.50" y2="281.60" class="tk"/>
<line x1="433.35" y1="43.30" x2="433.35" y2="49.30" class="tk"/>
<line x1="433.35" y1="275.60" x2="433.35" y2="281.60" class="tk"/>
<line x1="452.20" y1="43.30" x2="452.20" y2="49.30" class="tk"/>
<line x1="452.20" y1="275.60" x2="452.20" y2="281.60" class="tk"/>
<line x1="471.05" y1="43.30" x2="471.05" y2="49.30" class="tk"/>
<line x1="471.05" y1="275.60" x2="471.05" y2="281.60" class="tk"/>
<line x1="489.90" y1="43.30" x2="489.90" y2="49.30" class="tk"/>
<line x1="489.90" y1="275.60" x2="489.90" y2="281.60" class="tk"/>
<line x1="508.75" y1="43.30" x2="508.75" y2="49.30" class="tk"/>
<line x1="508.75" y1="275.60" x2="508.75" y2="281.60" class="tk"/>
<line x1="527.60" y1="43.30" x2="527.60" y2="49.30" class="tk"/>
<line x1="527.60" y1="275.60" x2="527.60" y2="281.60" class="tk"/>
<line x1="546.45" y1="43.30" x2="546.45" y2="49.30" class="tk"/>
<line x1="546.45" y1="275.60" x2="546.45" y2="281.60" class="tk"/>
<line x1="565.30" y1="43.30" x2="565.30" y2="49.30" class="tk"/>
<line x1="565.30" y1="275.60" x2="565.30" y2="281.60" class="tk"/>
<line x1="584.15" y1="43.30" x2="584.15" y2="49.30" class="tk"/>
<line x1="584.15" y1="275.60" x2="584.15" y2="281.60" class="tk"/>
<line x1="603.00" y1="43.30" x2="603.00" y2="49.30" class="tk"/>
<line x1="603.00" y1="275.60" x2="603.00" y2="281.60" class="tk"/>
<line x1="370.50" y1="60.65" x2="376.80" y2="60.65" class="tk"/>
<line x1="370.50" y1="91.96" x2="376.80" y2="91.96" class="tk"/>
<line x1="370.50" y1="112.59" x2="376.80" y2="112.59" class="tk"/>
<line x1="370.50" y1="134.45" x2="376.80" y2="134.45" class="tk"/>
<line x1="370.50" y1="159.31" x2="376.80" y2="159.31" class="tk"/>
<line x1="370.50" y1="176.94" x2="376.80" y2="176.94" class="tk"/>
<line x1="370.50" y1="190.62" x2="376.80" y2="190.62" class="tk"/>
<line x1="370.50" y1="201.80" x2="376.80" y2="201.80" class="tk"/>
<line x1="370.50" y1="219.43" x2="376.80" y2="219.43" class="tk"/>
<line x1="370.50" y1="233.11" x2="376.80" y2="233.11" class="tk"/>
<line x1="370.50" y1="253.74" x2="376.80" y2="253.74" class="tk"/>
<line x1="370.50" y1="265.64" x2="376.80" y2="265.64" class="tk"/>
<line x1="370.50" y1="275.60" x2="376.80" y2="275.60" class="tk"/>
<line x1="603.00" y1="62.60" x2="609.00" y2="62.60" class="tk2"/>
<line x1="603.00" y1="98.40" x2="609.00" y2="98.40" class="tk2"/>
<line x1="603.00" y1="136.50" x2="609.00" y2="136.50" class="tk2"/>
<line x1="603.00" y1="175.00" x2="609.00" y2="175.00" class="tk2"/>
<line x1="603.00" y1="212.40" x2="609.00" y2="212.40" class="tk2"/>
<line x1="603.00" y1="245.90" x2="609.00" y2="245.90" class="tk2"/>
<rect x="376.80" y="49.30" width="226.20" height="226.30" fill="none" stroke="#000" stroke-width="1.3"/>
<rect x="380.20" y="321.40" width="13.74" height="11.10" fill="#9370DB" stroke="#000" stroke-width="0.7"/>
<rect x="393.94" y="321.40" width="13.74" height="11.10" fill="#0000C8" stroke="#000" stroke-width="0.7"/>
<rect x="407.68" y="321.40" width="13.74" height="11.10" fill="#3C64E6" stroke="#000" stroke-width="0.7"/>
<rect x="421.41" y="321.40" width="13.74" height="11.10" fill="#789BF2" stroke="#000" stroke-width="0.7"/>
<rect x="435.15" y="321.40" width="13.74" height="11.10" fill="#B0E0E6" stroke="#000" stroke-width="0.7"/>
<rect x="448.89" y="321.40" width="13.74" height="11.10" fill="#20B2AA" stroke="#000" stroke-width="0.7"/>
<rect x="462.62" y="321.40" width="13.74" height="11.10" fill="#BAEE62" stroke="#000" stroke-width="0.7"/>
<rect x="476.36" y="321.40" width="13.74" height="11.10" fill="#96BE32" stroke="#000" stroke-width="0.7"/>
<rect x="490.10" y="321.40" width="13.74" height="11.10" fill="#F5E4BF" stroke="#000" stroke-width="0.7"/>
<rect x="503.84" y="321.40" width="13.74" height="11.10" fill="#DEB887" stroke="#000" stroke-width="0.7"/>
<rect x="517.58" y="321.40" width="13.74" height="11.10" fill="#FFD700" stroke="#000" stroke-width="0.7"/>
<rect x="531.31" y="321.40" width="13.74" height="11.10" fill="#FFA500" stroke="#000" stroke-width="0.7"/>
<rect x="545.05" y="321.40" width="13.74" height="11.10" fill="#FF4500" stroke="#000" stroke-width="0.7"/>
<rect x="558.79" y="321.40" width="13.74" height="11.10" fill="#B22222" stroke="#000" stroke-width="0.7"/>
<rect x="572.52" y="321.40" width="13.74" height="11.10" fill="#FFB6C1" stroke="#000" stroke-width="0.7"/>
<rect x="586.26" y="321.40" width="13.74" height="11.10" fill="#FF1493" stroke="#000" stroke-width="0.7"/>
<line x1="216.30" y1="421.30" x2="216.30" y2="427.30" class="tk"/>
<line x1="216.30" y1="653.60" x2="216.30" y2="659.60" class="tk"/>
<line x1="235.11" y1="421.30" x2="235.11" y2="427.30" class="tk"/>
<line x1="235.11" y1="653.60" x2="235.11" y2="659.60" class="tk"/>
<line x1="253.92" y1="421.30" x2="253.92" y2="427.30" class="tk"/>
<line x1="253.92" y1="653.60" x2="253.92" y2="659.60" class="tk"/>
<line x1="272.73" y1="421.30" x2="272.73" y2="427.30" class="tk"/>
<line x1="272.73" y1="653.60" x2="272.73" y2="659.60" class="tk"/>
<line x1="291.53" y1="421.30" x2="291.53" y2="427.30" class="tk"/>
<line x1="291.53" y1="653.60" x2="291.53" y2="659.60" class="tk"/>
<line x1="310.34" y1="421.30" x2="310.34" y2="427.30" class="tk"/>
<line x1="310.34" y1="653.60" x2="310.34" y2="659.60" class="tk"/>
<line x1="329.15" y1="421.30" x2="329.15" y2="427.30" class="tk"/>
<line x1="329.15" y1="653.60" x2="329.15" y2="659.60" class="tk"/>
<line x1="347.96" y1="421.30" x2="347.96" y2="427.30" class="tk"/>
<line x1="347.96" y1="653.60" x2="347.96" y2="659.60" class="tk"/>
<line x1="366.77" y1="421.30" x2="366.77" y2="427.30" class="tk"/>
<line x1="366.77" y1="653.60" x2="366.77" y2="659.60" class="tk"/>
<line x1="385.58" y1="421.30" x2="385.58" y2="427.30" class="tk"/>
<line x1="385.58" y1="653.60" x2="385.58" y2="659.60" class="tk"/>
<line x1="404.38" y1="421.30" x2="404.38" y2="427.30" class="tk"/>
<line x1="404.38" y1="653.60" x2="404.38" y2="659.60" class="tk"/>
<line x1="423.19" y1="421.30" x2="423.19" y2="427.30" class="tk"/>
<line x1="423.19" y1="653.60" x2="423.19" y2="659.60" class="tk"/>
<line x1="442.00" y1="421.30" x2="442.00" y2="427.30" class="tk"/>
<line x1="442.00" y1="653.60" x2="442.00" y2="659.60" class="tk"/>
<line x1="210.00" y1="438.65" x2="216.30" y2="438.65" class="tk"/>
<line x1="210.00" y1="469.96" x2="216.30" y2="469.96" class="tk"/>
<line x1="210.00" y1="490.59" x2="216.30" y2="490.59" class="tk"/>
<line x1="210.00" y1="512.45" x2="216.30" y2="512.45" class="tk"/>
<line x1="210.00" y1="537.31" x2="216.30" y2="537.31" class="tk"/>
<line x1="210.00" y1="554.94" x2="216.30" y2="554.94" class="tk"/>
<line x1="210.00" y1="568.62" x2="216.30" y2="568.62" class="tk"/>
<line x1="210.00" y1="579.80" x2="216.30" y2="579.80" class="tk"/>
<line x1="210.00" y1="597.43" x2="216.30" y2="597.43" class="tk"/>
<line x1="210.00" y1="611.11" x2="216.30" y2="611.11" class="tk"/>
<line x1="210.00" y1="631.74" x2="216.30" y2="631.74" class="tk"/>
<line x1="210.00" y1="643.64" x2="216.30" y2="643.64" class="tk"/>
<line x1="210.00" y1="653.60" x2="216.30" y2="653.60" class="tk"/>
<line x1="442.00" y1="440.60" x2="448.00" y2="440.60" class="tk2"/>
<line x1="442.00" y1="476.40" x2="448.00" y2="476.40" class="tk2"/>
<line x1="442.00" y1="514.50" x2="448.00" y2="514.50" class="tk2"/>
<line x1="442.00" y1="553.00" x2="448.00" y2="553.00" class="tk2"/>
<line x1="442.00" y1="590.40" x2="448.00" y2="590.40" class="tk2"/>
<line x1="442.00" y1="623.90" x2="448.00" y2="623.90" class="tk2"/>
<rect x="216.30" y="427.30" width="225.70" height="226.30" fill="none" stroke="#000" stroke-width="1.3"/>
<rect x="510.80" y="469.80" width="21.50" height="11.37" fill="#FF1493" stroke="#000" stroke-width="0.7"/>
<rect x="510.80" y="481.17" width="21.50" height="11.37" fill="#FFB6C1" stroke="#000" stroke-width="0.7"/>
<rect x="510.80" y="492.54" width="21.50" height="11.37" fill="#B22222" stroke="#000" stroke-width="0.7"/>
<rect x="510.80" y="503.91" width="21.50" height="11.37" fill="#FF4500" stroke="#000" stroke-width="0.7"/>
<rect x="510.80" y="515.27" width="21.50" height="11.37" fill="#FFA500" stroke="#000" stroke-width="0.7"/>
<rect x="510.80" y="526.64" width="21.50" height="11.37" fill="#FFD700" stroke="#000" stroke-width="0.7"/>
<rect x="510.80" y="538.01" width="21.50" height="11.37" fill="#DEB887" stroke="#000" stroke-width="0.7"/>
<rect x="510.80" y="549.38" width="21.50" height="11.37" fill="#F5E4BF" stroke="#000" stroke-width="0.7"/>
<rect x="510.80" y="560.75" width="21.50" height="11.37" fill="#96BE32" stroke="#000" stroke-width="0.7"/>
<rect x="510.80" y="572.12" width="21.50" height="11.37" fill="#BAEE62" stroke="#000" stroke-width="0.7"/>
<rect x="510.80" y="583.49" width="21.50" height="11.37" fill="#20B2AA" stroke="#000" stroke-width="0.7"/>
<rect x="510.80" y="594.86" width="21.50" height="11.37" fill="#B0E0E6" stroke="#000" stroke-width="0.7"/>
<rect x="510.80" y="606.23" width="21.50" height="11.37" fill="#789BF2" stroke="#000" stroke-width="0.7"/>
<rect x="510.80" y="617.59" width="21.50" height="11.37" fill="#3C64E6" stroke="#000" stroke-width="0.7"/>
<rect x="510.80" y="628.96" width="21.50" height="11.37" fill="#0000C8" stroke="#000" stroke-width="0.7"/>
<rect x="510.80" y="640.33" width="21.50" height="11.37" fill="#9370DB" stroke="#000" stroke-width="0.7"/>
</svg>
<svg class="ov" width="648" height="678" viewBox="0 0 648 678">
<text x="55.40" y="293.80" font-size="8.3" text-anchor="middle"  class="sm">J</text>
<text x="74.24" y="293.80" font-size="8.3" text-anchor="middle"  class="sm">F</text>
<text x="93.08" y="293.80" font-size="8.3" text-anchor="middle"  class="sm">M</text>
<text x="111.92" y="293.80" font-size="8.3" text-anchor="middle"  class="sm">A</text>
<text x="130.77" y="293.80" font-size="8.3" text-anchor="middle"  class="sm">M</text>
<text x="149.61" y="293.80" font-size="8.3" text-anchor="middle"  class="sm">J</text>
<text x="168.45" y="293.80" font-size="8.3" text-anchor="middle"  class="sm">J</text>
<text x="187.29" y="293.80" font-size="8.3" text-anchor="middle"  class="sm">A</text>
<text x="206.13" y="293.80" font-size="8.3" text-anchor="middle"  class="sm">S</text>
<text x="224.97" y="293.80" font-size="8.3" text-anchor="middle"  class="sm">O</text>
<text x="243.82" y="293.80" font-size="8.3" text-anchor="middle"  class="sm">N</text>
<text x="262.66" y="293.80" font-size="8.3" text-anchor="middle"  class="sm">D</text>
<text x="281.50" y="293.80" font-size="8.3" text-anchor="middle"  class="sm">J</text>
<text x="43.40" y="63.55" font-size="8.1" text-anchor="end"  class="sm">30</text>
<text x="43.40" y="94.86" font-size="8.1" text-anchor="end"  class="sm">50</text>
<text x="43.40" y="115.49" font-size="8.1" text-anchor="end"  class="sm">70</text>
<text x="43.40" y="137.35" font-size="8.1" text-anchor="end"  class="sm">100</text>
<text x="43.40" y="162.21" font-size="8.1" text-anchor="end"  class="sm">150</text>
<text x="43.40" y="179.84" font-size="8.1" text-anchor="end"  class="sm">200</text>
<text x="43.40" y="193.52" font-size="8.1" text-anchor="end"  class="sm">250</text>
<text x="43.40" y="204.70" font-size="8.1" text-anchor="end"  class="sm">300</text>
<text x="43.40" y="222.33" font-size="8.1" text-anchor="end"  class="sm">400</text>
<text x="43.40" y="236.01" font-size="8.1" text-anchor="end"  class="sm">500</text>
<text x="43.40" y="256.64" font-size="8.1" text-anchor="end"  class="sm">700</text>
<text x="43.40" y="268.54" font-size="8.1" text-anchor="end"  class="sm">850</text>
<text x="43.40" y="278.50" font-size="8.1" text-anchor="end"  class="sm">1000</text>
<text x="293.00" y="65.40" font-size="8.1" text-anchor="start"  class="sm">24</text>
<text x="293.00" y="101.20" font-size="8.1" text-anchor="start"  class="sm">20</text>
<text x="293.00" y="139.30" font-size="8.1" text-anchor="start"  class="sm">16</text>
<text x="293.00" y="177.80" font-size="8.1" text-anchor="start"  class="sm">12</text>
<text x="293.00" y="215.20" font-size="8.1" text-anchor="start"  class="sm">8</text>
<text x="293.00" y="248.70" font-size="8.1" text-anchor="start"  class="sm">4</text>
<text transform="translate(14.80,162.45) rotate(-90) scale(1,1.0)" font-size="12.85" text-anchor="middle">Pressure (mb)</text>
<text transform="translate(318.20,162.45) rotate(-90) scale(1,1.0)" font-size="12.85" text-anchor="middle">Height (km)</text>
<text x="168.20" y="17.20" font-size="15.4" text-anchor="middle" >f1850c5_t6 (yrs 2-3)</text>
<text x="55.00" y="40.00" font-size="12.9" text-anchor="start" >Q at -1.93738,147.305</text>
<text x="281.80" y="40.00" font-size="12.9" text-anchor="end" >g/kg</text>
<text x="168.30" y="305.60" font-size="10.27" text-anchor="middle" xml:space="preserve" class="sm">MIN = &#160; 0.00 MAX = &#160;17.46</text>
<text x="71.94" y="345.90" font-size="9.1" text-anchor="middle"  class="sm">0.5</text>
<text x="99.41" y="345.90" font-size="9.1" text-anchor="middle"  class="sm">2</text>
<text x="126.89" y="345.90" font-size="9.1" text-anchor="middle"  class="sm">4</text>
<text x="154.36" y="345.90" font-size="9.1" text-anchor="middle"  class="sm">6</text>
<text x="181.84" y="345.90" font-size="9.1" text-anchor="middle"  class="sm">8</text>
<text x="209.31" y="345.90" font-size="9.1" text-anchor="middle"  class="sm">10</text>
<text x="236.79" y="345.90" font-size="9.1" text-anchor="middle"  class="sm">12</text>
<text x="264.26" y="345.90" font-size="9.1" text-anchor="middle"  class="sm">14</text>
<text x="376.80" y="293.80" font-size="8.3" text-anchor="middle"  class="sm">J</text>
<text x="395.65" y="293.80" font-size="8.3" text-anchor="middle"  class="sm">F</text>
<text x="414.50" y="293.80" font-size="8.3" text-anchor="middle"  class="sm">M</text>
<text x="433.35" y="293.80" font-size="8.3" text-anchor="middle"  class="sm">A</text>
<text x="452.20" y="293.80" font-size="8.3" text-anchor="middle"  class="sm">M</text>
<text x="471.05" y="293.80" font-size="8.3" text-anchor="middle"  class="sm">J</text>
<text x="489.90" y="293.80" font-size="8.3" text-anchor="middle"  class="sm">J</text>
<text x="508.75" y="293.80" font-size="8.3" text-anchor="middle"  class="sm">A</text>
<text x="527.60" y="293.80" font-size="8.3" text-anchor="middle"  class="sm">S</text>
<text x="546.45" y="293.80" font-size="8.3" text-anchor="middle"  class="sm">O</text>
<text x="565.30" y="293.80" font-size="8.3" text-anchor="middle"  class="sm">N</text>
<text x="584.15" y="293.80" font-size="8.3" text-anchor="middle"  class="sm">D</text>
<text x="603.00" y="293.80" font-size="8.3" text-anchor="middle"  class="sm">J</text>
<text x="364.80" y="63.55" font-size="8.1" text-anchor="end"  class="sm">30</text>
<text x="364.80" y="94.86" font-size="8.1" text-anchor="end"  class="sm">50</text>
<text x="364.80" y="115.49" font-size="8.1" text-anchor="end"  class="sm">70</text>
<text x="364.80" y="137.35" font-size="8.1" text-anchor="end"  class="sm">100</text>
<text x="364.80" y="162.21" font-size="8.1" text-anchor="end"  class="sm">150</text>
<text x="364.80" y="179.84" font-size="8.1" text-anchor="end"  class="sm">200</text>
<text x="364.80" y="193.52" font-size="8.1" text-anchor="end"  class="sm">250</text>
<text x="364.80" y="204.70" font-size="8.1" text-anchor="end"  class="sm">300</text>
<text x="364.80" y="222.33" font-size="8.1" text-anchor="end"  class="sm">400</text>
<text x="364.80" y="236.01" font-size="8.1" text-anchor="end"  class="sm">500</text>
<text x="364.80" y="256.64" font-size="8.1" text-anchor="end"  class="sm">700</text>
<text x="364.80" y="268.54" font-size="8.1" text-anchor="end"  class="sm">850</text>
<text x="364.80" y="278.50" font-size="8.1" text-anchor="end"  class="sm">1000</text>
<text x="614.50" y="65.40" font-size="8.1" text-anchor="start"  class="sm">24</text>
<text x="614.50" y="101.20" font-size="8.1" text-anchor="start"  class="sm">20</text>
<text x="614.50" y="139.30" font-size="8.1" text-anchor="start"  class="sm">16</text>
<text x="614.50" y="177.80" font-size="8.1" text-anchor="start"  class="sm">12</text>
<text x="614.50" y="215.20" font-size="8.1" text-anchor="start"  class="sm">8</text>
<text x="614.50" y="248.70" font-size="8.1" text-anchor="start"  class="sm">4</text>
<text transform="translate(336.20,162.45) rotate(-90) scale(1,1.0)" font-size="12.85" text-anchor="middle">pressure level</text>
<text transform="translate(639.20,162.45) rotate(-90) scale(1,1.0)" font-size="12.85" text-anchor="middle">Height (km)</text>
<text x="490.00" y="18.00" font-size="15.25" text-anchor="middle" >ARM TWP1</text>
<text x="376.90" y="39.50" font-size="12.9" text-anchor="start" >Specific Humidity</text>
<text x="603.20" y="39.50" font-size="12.9" text-anchor="end" >g/kg</text>
<text x="489.80" y="305.60" font-size="10.27" text-anchor="middle"  class="sm">MIN = &#160; 0.00 MAX = &#160;18.97</text>
<text x="393.94" y="345.90" font-size="9.1" text-anchor="middle"  class="sm">0.5</text>
<text x="421.41" y="345.90" font-size="9.1" text-anchor="middle"  class="sm">2</text>
<text x="448.89" y="345.90" font-size="9.1" text-anchor="middle"  class="sm">4</text>
<text x="476.36" y="345.90" font-size="9.1" text-anchor="middle"  class="sm">6</text>
<text x="503.84" y="345.90" font-size="9.1" text-anchor="middle"  class="sm">8</text>
<text x="531.31" y="345.90" font-size="9.1" text-anchor="middle"  class="sm">10</text>
<text x="558.79" y="345.90" font-size="9.1" text-anchor="middle"  class="sm">12</text>
<text x="586.26" y="345.90" font-size="9.1" text-anchor="middle"  class="sm">14</text>
<text x="216.30" y="671.80" font-size="8.3" text-anchor="middle"  class="sm">J</text>
<text x="235.11" y="671.80" font-size="8.3" text-anchor="middle"  class="sm">F</text>
<text x="253.92" y="671.80" font-size="8.3" text-anchor="middle"  class="sm">M</text>
<text x="272.73" y="671.80" font-size="8.3" text-anchor="middle"  class="sm">A</text>
<text x="291.53" y="671.80" font-size="8.3" text-anchor="middle"  class="sm">M</text>
<text x="310.34" y="671.80" font-size="8.3" text-anchor="middle"  class="sm">J</text>
<text x="329.15" y="671.80" font-size="8.3" text-anchor="middle"  class="sm">J</text>
<text x="347.96" y="671.80" font-size="8.3" text-anchor="middle"  class="sm">A</text>
<text x="366.77" y="671.80" font-size="8.3" text-anchor="middle"  class="sm">S</text>
<text x="385.58" y="671.80" font-size="8.3" text-anchor="middle"  class="sm">O</text>
<text x="404.38" y="671.80" font-size="8.3" text-anchor="middle"  class="sm">N</text>
<text x="423.19" y="671.80" font-size="8.3" text-anchor="middle"  class="sm">D</text>
<text x="442.00" y="671.80" font-size="8.3" text-anchor="middle"  class="sm">J</text>
<text x="204.30" y="441.55" font-size="8.1" text-anchor="end"  class="sm">30</text>
<text x="204.30" y="472.86" font-size="8.1" text-anchor="end"  class="sm">50</text>
<text x="204.30" y="493.49" font-size="8.1" text-anchor="end"  class="sm">70</text>
<text x="204.30" y="515.35" font-size="8.1" text-anchor="end"  class="sm">100</text>
<text x="204.30" y="540.21" font-size="8.1" text-anchor="end"  class="sm">150</text>
<text x="204.30" y="557.84" font-size="8.1" text-anchor="end"  class="sm">200</text>
<text x="204.30" y="571.52" font-size="8.1" text-anchor="end"  class="sm">250</text>
<text x="204.30" y="582.70" font-size="8.1" text-anchor="end"  class="sm">300</text>
<text x="204.30" y="600.33" font-size="8.1" text-anchor="end"  class="sm">400</text>
<text x="204.30" y="614.01" font-size="8.1" text-anchor="end"  class="sm">500</text>
<text x="204.30" y="634.64" font-size="8.1" text-anchor="end"  class="sm">700</text>
<text x="204.30" y="646.54" font-size="8.1" text-anchor="end"  class="sm">850</text>
<text x="204.30" y="656.50" font-size="8.1" text-anchor="end"  class="sm">1000</text>
<text x="453.50" y="443.40" font-size="8.1" text-anchor="start"  class="sm">24</text>
<text x="453.50" y="479.20" font-size="8.1" text-anchor="start"  class="sm">20</text>
<text x="453.50" y="517.30" font-size="8.1" text-anchor="start"  class="sm">16</text>
<text x="453.50" y="555.80" font-size="8.1" text-anchor="start"  class="sm">12</text>
<text x="453.50" y="593.20" font-size="8.1" text-anchor="start"  class="sm">8</text>
<text x="453.50" y="626.70" font-size="8.1" text-anchor="start"  class="sm">4</text>
<text transform="translate(175.70,540.45) rotate(-90) scale(1,1.0)" font-size="12.85" text-anchor="middle">Pressure (mb)</text>
<text transform="translate(478.40,540.45) rotate(-90) scale(1,1.0)" font-size="12.85" text-anchor="middle">Height (km)</text>
<text x="330.00" y="395.70" font-size="15.4" text-anchor="middle" >f1850c5_t6 - ARM TWP1</text>
<text x="216.00" y="417.10" font-size="12.9" text-anchor="start" >Specific Humidity</text>
<text x="442.20" y="417.10" font-size="12.9" text-anchor="end" >g/kg</text>
<text x="471.25" y="450.75" font-size="10.27" text-anchor="start"  class="sm">MIN = &#160;-2.24 MAX = &#160; 0.57</text>
<text x="544.00" y="484.67" font-size="8.9" text-anchor="middle"  class="sm">1.4</text>
<text x="544.00" y="496.04" font-size="8.9" text-anchor="middle"  class="sm">1.2</text>
<text x="544.00" y="507.41" font-size="8.9" text-anchor="middle"  class="sm">1</text>
<text x="544.00" y="518.77" font-size="8.9" text-anchor="middle"  class="sm">0.8</text>
<text x="544.00" y="530.14" font-size="8.9" text-anchor="middle"  class="sm">0.6</text>
<text x="544.00" y="541.51" font-size="8.9" text-anchor="middle"  class="sm">0.4</text>
<text x="544.00" y="552.88" font-size="8.9" text-anchor="middle"  class="sm">0.2</text>
<text x="544.00" y="564.25" font-size="8.9" text-anchor="middle"  class="sm">0</text>
<text x="544.00" y="575.62" font-size="8.9" text-anchor="middle"  class="sm">-0.2</text>
<text x="544.00" y="586.99" font-size="8.9" text-anchor="middle"  class="sm">-0.4</text>
<text x="544.00" y="598.36" font-size="8.9" text-anchor="middle"  class="sm">-0.6</text>
<text x="544.00" y="609.73" font-size="8.9" text-anchor="middle"  class="sm">-0.8</text>
<text x="544.00" y="621.09" font-size="8.9" text-anchor="middle"  class="sm">-1</text>
<text x="544.00" y="632.46" font-size="8.9" text-anchor="middle"  class="sm">-1.2</text>
<text x="544.00" y="643.83" font-size="8.9" text-anchor="middle"  class="sm">-1.4</text>
</svg></body></html>
